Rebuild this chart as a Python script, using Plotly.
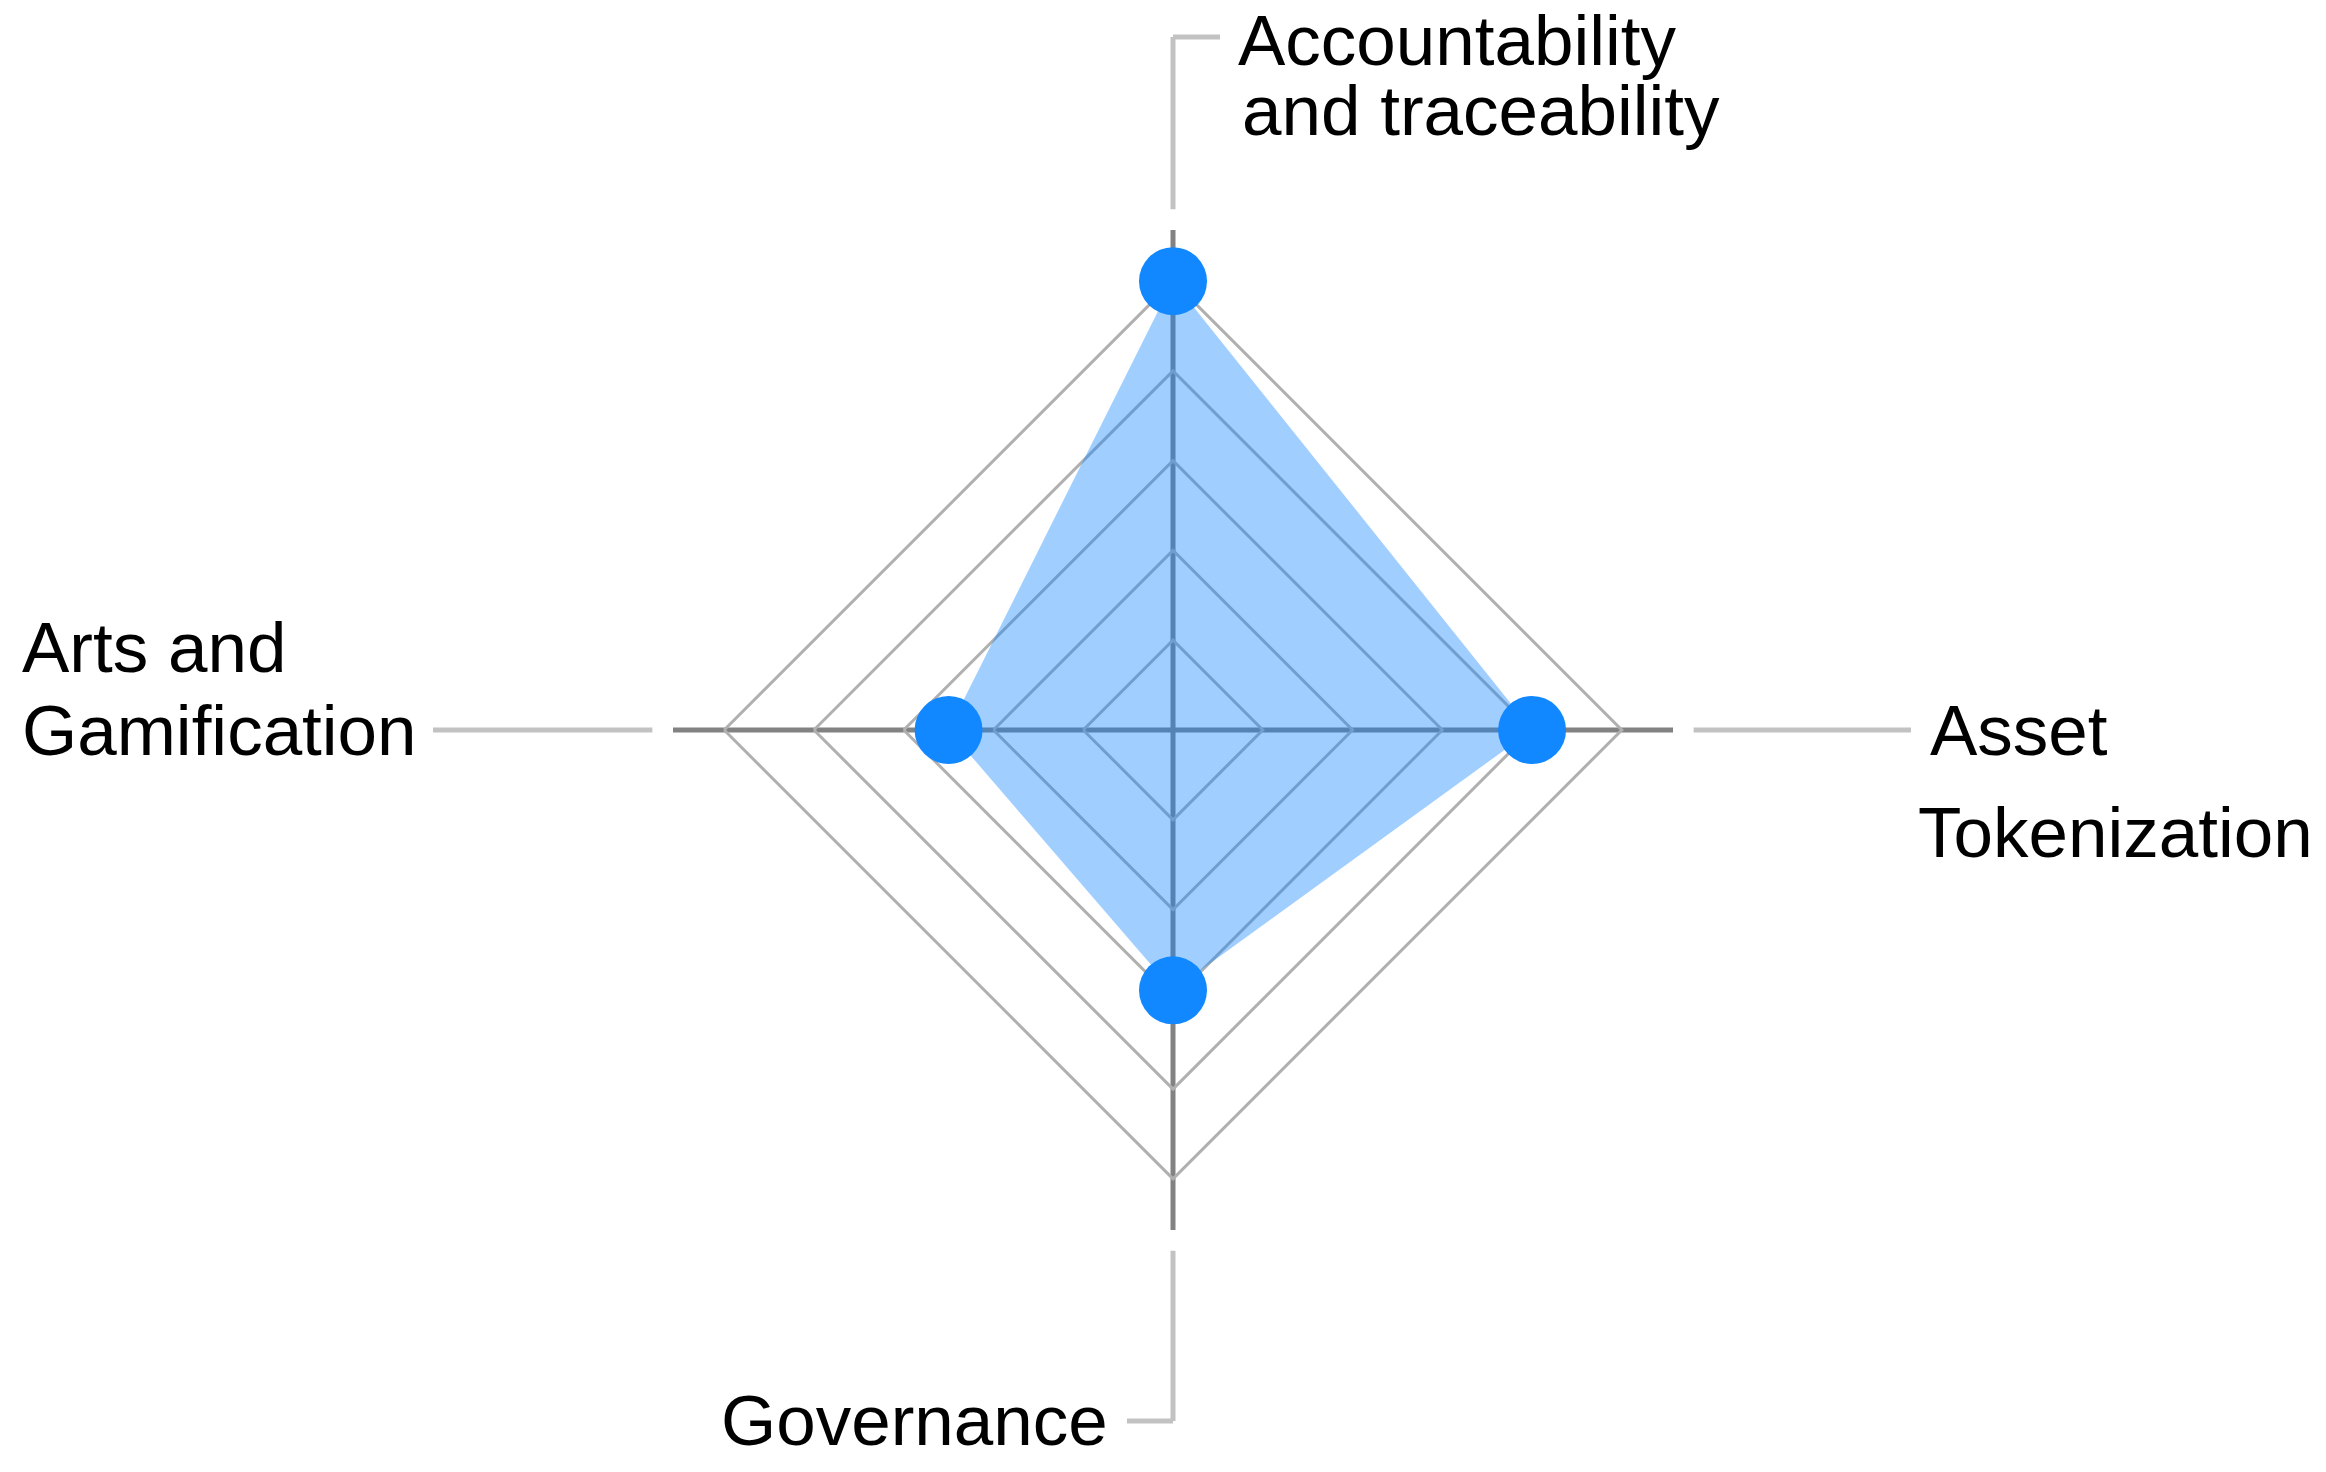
import plotly.graph_objects as go

# ---- data ----
categories = ["Accountability and traceability", "Asset Tokenization", "Governance", "Arts and Gamification"]
values = [5, 4, 2.9, 2.5]
ring_values = [1, 2, 3, 4, 5]

# ---- geometry / styling ----
OFF = 8                      # default page body margin in the html
W, H = 2326 - 2 * OFF, 1472 - 2 * OFF
CX, CY = 1173, 730           # polar centre in page px
R_MAX = 5.57                 # radial range max (spokes end here)
RADIUS_PX = 500              # px radius for R_MAX
UNIT = RADIUS_PX / R_MAX
LEAD_START = 5.8             # leader lines start radius (value units)

BLUE = "#1188FF"
FILL = "rgba(17,136,255,0.4)"
SPOKE = "#828282"
RING = "#b0b0b0"
LEADER = "#c2c2c2"
FONT = "Liberation Sans, Arial, sans-serif"
FS = 71


def px_x(x):
    return (x - OFF) / W


def px_y(y):
    return 1 - (y - OFF) / H


fig = go.Figure()
fig.add_trace(go.Scatterpolar(
    r=values,
    theta=categories,
    mode="markers",
    fill="toself",
    fillcolor=FILL,
    marker=dict(size=68, color=BLUE),
    line=dict(width=0),
    hoverinfo="skip",
    showlegend=False,
))

fig.update_layout(
    width=W, height=H,
    margin=dict(l=0, r=0, t=0, b=0),
    paper_bgcolor="white",
    plot_bgcolor="white",
    polar=dict(
        domain=dict(x=[px_x(CX - RADIUS_PX), px_x(CX + RADIUS_PX)],
                    y=[px_y(CY + RADIUS_PX), px_y(CY - RADIUS_PX)]),
        gridshape="linear",
        bgcolor="white",
        radialaxis=dict(range=[0, R_MAX], tickmode="array", tickvals=ring_values,
                        showticklabels=False, ticks="", showline=False,
                        gridcolor=RING, gridwidth=2.5),
        angularaxis=dict(categoryorder="array", categoryarray=categories,
                         rotation=90, direction="clockwise",
                         showticklabels=False, ticks="", showline=False,
                         gridcolor=SPOKE, gridwidth=5),
    ),
)

# ---- leader lines ----
lead_px = LEAD_START * UNIT
shapes = []


def seg(x0, y0, x1, y1):
    shapes.append(dict(type="line", xref="paper", yref="paper",
                       x0=px_x(x0), y0=px_y(y0), x1=px_x(x1), y1=px_y(y1),
                       line=dict(color=LEADER, width=5)))


# top
seg(CX, CY - lead_px, CX, 37)
seg(CX, 37, 1220, 37)
# right
seg(CX + lead_px, CY, 1911, CY)
# bottom
seg(CX, CY + lead_px, CX, 1421)
seg(CX, 1421, 1127, 1421)
# left
seg(CX - lead_px, CY, 433, CY)
fig.update_layout(shapes=shapes)

# ---- labels ----
labels = [
    ("Accountability", 1236, 40, "left"),
    ("and traceability", 1240, 111, "left"),
    ("Asset", 1928, 730, "left"),
    ("Tokenization", 1916, 832, "left"),
    ("Arts and", 20, 647, "left"),
    ("Gamification", 20, 730, "left"),
    ("Governance", 1110, 1420, "right"),
]
for text, x, y, anchor in labels:
    fig.add_annotation(text=text, xref="paper", yref="paper",
                       x=px_x(x), y=px_y(y), xanchor=anchor, yanchor="middle",
                       showarrow=False, font=dict(family=FONT, size=FS, color="black"))

fig.write_html("out.html")
